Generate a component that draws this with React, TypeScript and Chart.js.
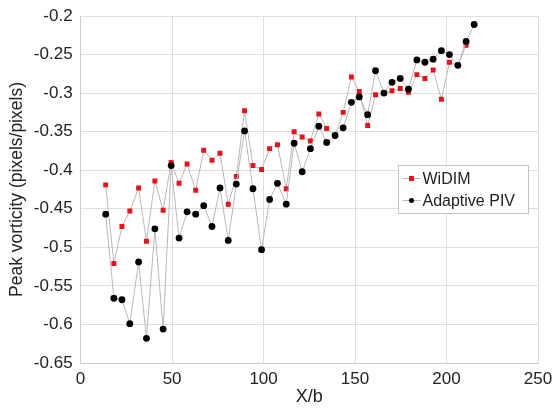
import React, { useEffect, useRef } from "react";
import { Chart, registerables } from "chart.js";

Chart.register(...registerables);

// X/b positions (Adaptive PIV has one more sample than WiDIM at the end)
const X_B = [
  13.7, 18.2, 22.6, 26.9, 31.7, 36.0, 40.6, 45.1, 49.5, 53.8, 58.2, 62.9, 67.3, 71.8, 76.2, 80.7,
  85.1, 89.6, 94.2, 98.9, 103.3, 107.6, 112.4, 116.7, 121.1, 125.6, 130.2, 134.5, 139.1, 143.5,
  148.0, 152.3, 156.9, 161.2, 165.8, 170.2, 174.7, 179.2, 183.8, 188.2, 192.7, 197.2, 201.6,
  206.2, 210.7, 215.1,
];

const WIDIM = [
  -0.419, -0.521, -0.473, -0.453, -0.423, -0.492, -0.414, -0.452, -0.39, -0.417, -0.392, -0.426,
  -0.374, -0.387, -0.378, -0.444, -0.408, -0.323, -0.394, -0.399, -0.372, -0.367, -0.424, -0.35,
  -0.357, -0.362, -0.327, -0.346, -0.355, -0.325, -0.279, -0.298, -0.342, -0.302, -0.3, -0.297,
  -0.294, -0.299, -0.276, -0.281, -0.27, -0.308, -0.26, -0.264, -0.238,
];

const ADAPTIVE_PIV = [
  -0.457, -0.566, -0.568, -0.599, -0.519, -0.618, -0.476, -0.606, -0.394, -0.488, -0.454, -0.457,
  -0.446, -0.473, -0.423, -0.491, -0.418, -0.349, -0.424, -0.503, -0.438, -0.417, -0.444, -0.365,
  -0.402, -0.372, -0.343, -0.364, -0.355, -0.345, -0.312, -0.305, -0.328, -0.271, -0.3, -0.286,
  -0.281, -0.295, -0.257, -0.26, -0.256, -0.245, -0.25, -0.264, -0.233, -0.211,
];

const SERIES_NAMES = ["WiDIM", "Adaptive PIV"];
const X_TITLE = "X/b";
const Y_TITLE = "Peak vorticity (pixels/pixels)";
const X_MIN = 0, X_MAX = 250, X_STEP = 50;
const Y_MIN = -0.65, Y_MAX = -0.2, Y_STEP = 0.05;

const FONT = "'Liberation Sans', Arial, Helvetica, sans-serif";
const LINE_GRAY = "#b8b8b8";
const RED = "#e3141b";
const BLACK = "#000000";
const GRID = "#dedede";
const TEXT = "#222222";

const legendPlugin = {
  id: "customLegend",
  afterDraw(chart: any) {
    const ctx = chart.ctx as CanvasRenderingContext2D;
    const ca = chart.chartArea;
    const bx = Math.round(ca.right - 140) + 0.5;
    const by = Math.round(ca.top + 149) + 0.5;
    const bw = 130;
    const bh = 48;
    ctx.save();
    ctx.fillStyle = "#ffffff";
    ctx.strokeStyle = "#c4c4c4";
    ctx.lineWidth = 1;
    ctx.fillRect(bx, by, bw, bh);
    ctx.strokeRect(bx, by, bw, bh);
    const rows = [
      { name: SERIES_NAMES[0], color: RED, style: "rect" },
      { name: SERIES_NAMES[1], color: BLACK, style: "circle" },
    ];
    rows.forEach((r, i) => {
      const cy = by + 13 + i * 22;
      ctx.strokeStyle = LINE_GRAY;
      ctx.beginPath();
      ctx.moveTo(bx + 4, cy);
      ctx.lineTo(bx + 22, cy);
      ctx.stroke();
      ctx.fillStyle = r.color;
      const mx = bx + 13;
      if (r.style === "rect") {
        ctx.fillRect(mx - 2.5, cy - 2.5, 5, 5);
      } else {
        ctx.beginPath();
        ctx.arc(mx, cy, 2.5, 0, Math.PI * 2);
        ctx.fill();
      }
      ctx.fillStyle = TEXT;
      ctx.font = `16px ${FONT}`;
      ctx.textBaseline = "middle";
      ctx.textAlign = "left";
      ctx.fillText(r.name, bx + 24, cy + 1);
    });
    ctx.restore();
  },
};

export default function App() {
  const ref = useRef<HTMLCanvasElement | null>(null);

  useEffect(() => {
    if (!ref.current) return;
    const fmt = (v: any) => Number(Number(v).toFixed(2)).toString();
    const chart = new Chart(ref.current, {
      type: "scatter",
      data: {
        datasets: [
          {
            label: SERIES_NAMES[0],
            data: WIDIM.map((y, i) => ({ x: X_B[i], y })),
            showLine: true,
            borderColor: LINE_GRAY,
            borderWidth: 1,
            pointStyle: "rect",
            pointRadius: 3.5,
            pointBackgroundColor: RED,
            pointBorderColor: RED,
            pointBorderWidth: 0,
            order: 2,
          },
          {
            label: SERIES_NAMES[1],
            data: ADAPTIVE_PIV.map((y, i) => ({ x: X_B[i], y })),
            showLine: true,
            borderColor: LINE_GRAY,
            borderWidth: 1,
            pointStyle: "circle",
            pointRadius: 3.4,
            pointBackgroundColor: BLACK,
            pointBorderColor: BLACK,
            pointBorderWidth: 0,
            order: 1,
          },
        ],
      },
      options: {
        responsive: false,
        animation: false,
        events: [],
        layout: { padding: { left: 0, right: 16, top: 16, bottom: 0 } },
        plugins: {
          legend: { display: false },
          tooltip: { enabled: false },
        },
        scales: {
          x: {
            type: "linear",
            min: X_MIN,
            max: X_MAX,
            ticks: {
              stepSize: X_STEP,
              color: TEXT,
              font: { family: FONT, size: 17 },
              padding: 6,
              maxRotation: 0,
              callback: fmt,
            },
            grid: { color: GRID, drawTicks: false },
            border: { color: "#cccccc" },
            title: {
              display: true,
              text: X_TITLE,
              color: TEXT,
              font: { family: FONT, size: 18 },
              padding: { top: 0, bottom: 2 },
            },
            afterFit: (s: any) => {
              s.height = 47;
              s.paddingLeft = 0;
              s.paddingRight = 0;
            },
          },
          y: {
            type: "linear",
            min: Y_MIN,
            max: Y_MAX,
            ticks: {
              stepSize: Y_STEP,
              color: TEXT,
              font: { family: FONT, size: 17 },
              padding: 8,
              callback: fmt,
            },
            grid: { color: GRID, drawTicks: false },
            border: { color: "#cccccc" },
            title: {
              display: true,
              text: Y_TITLE,
              color: TEXT,
              font: { family: FONT, size: 17.5 },
              padding: { top: 7, bottom: 0 },
            },
            afterFit: (s: any) => {
              s.width = 80.6;
              s.paddingTop = 0;
              s.paddingBottom = 0;
            },
          },
        },
      },
      plugins: [legendPlugin],
    });
    return () => chart.destroy();
  }, []);

  return (
    <div style={{ position: "fixed", left: 0, top: 0, width: 554, height: 410, background: "#fff" }}>
      <canvas ref={ref} width={554} height={410} style={{ width: 554, height: 410 }} />
    </div>
  );
}
